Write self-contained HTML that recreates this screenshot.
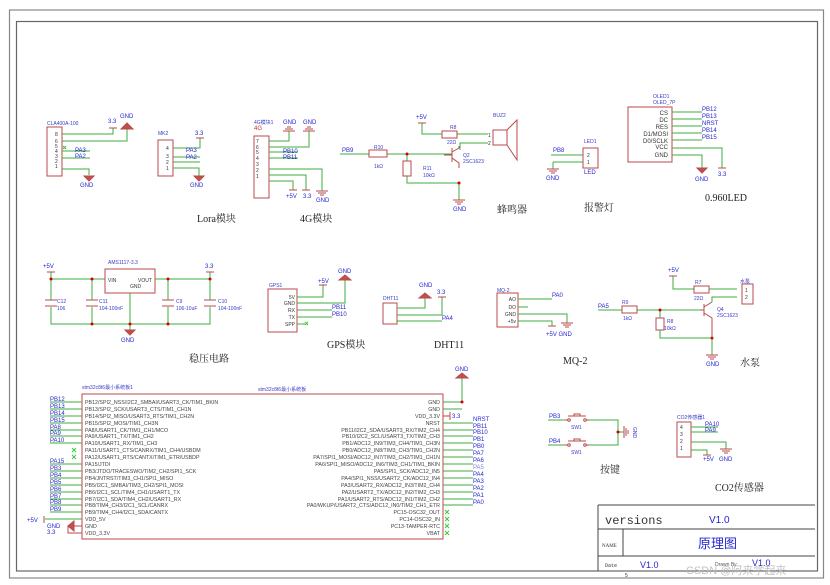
<!DOCTYPE html>
<html><head><meta charset="utf-8"><style>
html,body{margin:0;padding:0;background:#fff}
svg{display:block}
.r{stroke:#b84a4a;fill:none;stroke-width:1}
.rf{fill:#c05050;stroke:#b84a4a}
.g{stroke:#3fae3f;fill:none;stroke-width:1}
.k{stroke:#777;fill:none}
text{font-family:"Liberation Sans","Noto Sans CJK SC",sans-serif}
.b{fill:#2525d0;font-size:6px}
.bs{fill:#3a3ac8;font-size:5px}
.p{fill:#333;font-size:5px}
.s{fill:#444;font-size:5.3px}
.h{fill:#222;font-size:10px;font-family:"Liberation Serif","Noto Serif CJK SC",serif}
.j{fill:#d00000}
</style></head><body>
<svg width="830" height="585" viewBox="0 0 830 585" xmlns="http://www.w3.org/2000/svg">
<!-- frames -->
<rect x="9.5" y="10" width="814" height="568" fill="none" stroke="#888" stroke-width="1.2"/>
<rect x="16.5" y="21.5" width="801" height="549.5" fill="none" stroke="#666" stroke-width="1.2"/>

<!-- ===== LORA 1 ===== -->
<text class="bs" x="47" y="125">CLA400A-100</text>
<rect class="r" x="47" y="127" width="15" height="49"/>
<g class="p"><text x="55" y="136">8</text><text x="55" y="143">6</text><text x="55" y="148">5</text><text x="55" y="153">4</text><text x="55" y="158">3</text><text x="55" y="163">2</text><text x="55" y="168">1</text></g>
<path class="g" d="M62 134H113V128M62 141H127V128M62 151H90M62 158H90M62 169H89V175"/>
<path d="M63 146l3 3m0-3l-3 3" stroke="#3c3" fill="none"/>
<text class="b" x="75" y="152">PA3</text><text class="b" x="75" y="158">PA2</text>
<text class="b" x="108" y="123">3.3</text><path class="r" d="M109 128h8"/>
<text class="b" x="120" y="118" font-size="7">GND</text><path class="rf" d="M121 129l6-6 6 6z"/>
<path class="rf" d="M84 176h10l-5 5z"/><text class="b" x="80" y="187" font-size="7">GND</text>

<!-- ===== LORA 2 ===== -->
<text class="bs" x="158" y="135" font-size="4">MK2</text>
<rect class="r" x="158" y="140" width="15" height="36"/>
<g class="p"><text x="166" y="150">4</text><text x="166" y="158">3</text><text x="166" y="164">2</text><text x="166" y="170">1</text></g>
<path class="g" d="M173 148H200V138M173 157H200M173 162H200M173 168H199V176"/>
<text class="b" x="195" y="135">3.3</text><path class="r" d="M196 138h8"/>
<text class="b" x="186" y="152">PA3</text><text class="b" x="186" y="159">PA2</text>
<path class="rf" d="M194 176h10l-5 5z"/><text class="b" x="190" y="187" font-size="7">GND</text>
<text class="h" x="197" y="222">Lora模块</text>

<!-- ===== 4G ===== -->
<text class="bs" x="254" y="124">4G模块1</text><text class="b" x="254" y="130" fill="#c33" style="fill:#c03030">4G</text>
<rect class="r" x="254" y="136" width="15" height="62"/>
<g class="p"><text x="256" y="143">7</text><text x="256" y="149">6</text><text x="256" y="154">5</text><text x="256" y="160">4</text><text x="256" y="166">3</text><text x="256" y="172">2</text><text x="256" y="178">1</text></g>
<path class="g" d="M269 141H289V131M269 147H309V131M269 152H298M269 158H298M269 169H322V191M269 175H306V190M269 181H293V190"/>
<text class="b" x="283" y="153">PB10</text><text class="b" x="283" y="159">PB11</text>
<text class="b" x="283" y="124">GND</text><text class="b" x="303" y="124">GND</text>
<path class="r" d="M283 131h12M285 129h8M287 127h4M303 131h12M305 129h8M307 127h4"/>
<path class="r" d="M316 191h12M318 193h8M320 195h4M302 190h8M289 190h8"/>
<text class="b" x="303" y="198">3.3</text><text class="b" x="286" y="198">+5V</text><text class="b" x="316" y="202">GND</text>
<text class="h" x="300" y="222">4G模块</text>

<!-- ===== BUZZER ===== -->
<text class="b" x="342" y="152">PB9</text>
<path class="g" d="M340 154H369M387 154H452M407 154V161M407 176V183H459V200M422 123V134H442M457 134H488M488 143H460V150"/>
<rect class="r" x="369" y="150" width="18" height="7"/>
<text class="bs" x="374" y="149">R10</text><text class="bs" x="374" y="168">1kΩ</text>
<rect class="r" x="403" y="161" width="8" height="15"/>
<text class="bs" x="423" y="170">R11</text><text class="bs" x="423" y="177">10kΩ</text>
<circle class="j" cx="407" cy="154" r="1.5"/><circle class="j" cx="459" cy="183" r="1.5"/>
<text class="b" x="416" y="119">+5V</text><path class="r" d="M418 123h8"/>
<rect class="r" x="442" y="131" width="15" height="7"/>
<text class="bs" x="450" y="129">R8</text><text class="bs" x="447" y="144">22Ω</text>
<path class="r" d="M452 148V162M452 155H444M452 152L459 148V146M452 158L459 163V168"/>
<text class="bs" x="463" y="157">Q2</text><text class="bs" x="463" y="163">2SC1623</text>
<text class="bs" x="493" y="117">BUZ2</text>
<path class="r" d="M493 130h14v15h-14zM507 130L517 120V160L507 145"/>
<text class="p" x="488" y="137">1</text><text class="p" x="488" y="145">2</text>
<path class="r" d="M453 200h12M455 202h8M457 204h4"/>
<text class="b" x="453" y="211">GND</text>
<text class="h" x="497" y="213">蜂鸣器</text>

<!-- ===== LED ===== -->
<text class="b" x="553" y="152">PB8</text>
<path class="g" d="M551 155H583M553 162H583M553 162V169"/>
<rect class="r" x="583" y="148" width="15" height="20"/>
<text class="p" x="587" y="157">2</text><text class="p" x="587" y="164">1</text>
<text class="bs" x="584" y="143">LED1</text><text class="b" x="584" y="174">LED</text>
<path class="r" d="M547 169h12M549 171h8M551 173h4"/><text class="b" x="546" y="180">GND</text>
<text class="h" x="584" y="211">报警灯</text>

<!-- ===== OLED ===== -->
<text class="bs" x="653" y="98">OLED1</text><text class="bs" x="653" y="104">OLED_7P</text>
<rect class="r" x="628" y="107" width="44" height="55"/>
<g style="font-family:'Liberation Serif',serif;font-size:6px;fill:#333" text-anchor="end">
<text x="668" y="115">CS</text><text x="668" y="122">DC</text><text x="668" y="129">RES</text><text x="668" y="136">D1/MOSI</text><text x="668" y="143">D0/SCLK</text><text x="668" y="149">VCC</text><text x="668" y="157">GND</text></g>
<path class="g" d="M672 112H702M672 119H702M672 126H702M672 133H702M672 140H702M672 148H722V168M672 155H702V168"/>
<g class="b"><text x="702" y="111">PB12</text><text x="702" y="118">PB13</text><text x="702" y="125">NRST</text><text x="702" y="132">PB14</text><text x="702" y="139">PB15</text></g>
<path class="r" d="M718 168h8"/><text class="b" x="718" y="176">3.3</text>
<path class="rf" d="M697 168h10l-5 5z"/><text class="b" x="695" y="181" font-size="7">GND</text>
<text class="h" x="705" y="201">0.960LED</text>

<!-- ===== REGULATOR ===== -->
<text class="b" x="43" y="268" font-size="7">+5V</text>
<text class="bs" x="108" y="264">AMS1117-3.3</text>
<rect class="r" x="105" y="269" width="50" height="24"/>
<text class="p" x="108" y="282">VIN</text><text class="p" x="138" y="282">VOUT</text><text class="p" x="130" y="288" font-size="4">GND</text>
<path class="g" d="M51 272V279H105M155 279H210V272M51 279V300M51 307V324H210V307M210 279V300M92 279V300M92 307V324M168 279V300M168 307V324M130 293V330"/>
<path class="r" d="M45 300h12M45 306h12M86 300h12M86 306h12M162 300h12M162 306h12M204 300h12M204 306h12"/>
<path class="r" d="M47 272h8M206 272h8"/><text class="b" x="205" y="268">3.3</text>
<g class="j"><circle cx="51" cy="279" r="1.5"/><circle cx="92" cy="279" r="1.5"/><circle cx="168" cy="279" r="1.5"/><circle cx="210" cy="279" r="1.5"/><circle cx="92" cy="324" r="1.5"/><circle cx="130" cy="324" r="1.5"/><circle cx="168" cy="324" r="1.5"/></g>
<g class="bs"><text x="57" y="303">C12</text><text x="57" y="310">106</text><text x="99" y="303">C11</text><text x="99" y="310">104-100nF</text><text x="176" y="303">C9</text><text x="176" y="310">106-10uF</text><text x="218" y="303">C10</text><text x="218" y="310">104-100nF</text></g>
<path class="rf" d="M125 330h10l-5 5z"/><text class="b" x="121" y="342" font-size="7">GND</text>
<text class="h" x="189" y="362" font-size="11">稳压电路</text>

<!-- ===== GPS ===== -->
<text class="bs" x="269" y="287">GPS1</text>
<rect class="r" x="268" y="289" width="29" height="43"/>
<g class="p" text-anchor="end" font-size="6"><text x="295" y="299">5V</text><text x="295" y="305">GND</text><text x="295" y="312">RX</text><text x="295" y="319">TX</text><text x="295" y="326">SPP</text></g>
<path class="g" d="M297 297H323V285M297 303H345V280M297 310H332M297 317H332M297 324H305"/>
<path d="M305 322l3 3m0-3l-3 3" stroke="#3c3" fill="none"/>
<text class="b" x="318" y="283">+5V</text><path class="r" d="M319 285h8"/>
<text class="b" x="338" y="273">GND</text><path class="rf" d="M339 280l6-5 6 5z"/>
<text class="b" x="332" y="309">PB11</text><text class="b" x="332" y="316">PB10</text>
<text class="h" x="327" y="348">GPS模块</text>

<!-- ===== DHT11 ===== -->
<text class="bs" x="383" y="300">DHT11</text>
<rect class="r" x="383" y="303" width="14" height="21"/>
<path class="g" d="M397 308H425V298M397 315H442V297M397 321H442"/>
<text class="b" x="419" y="287">GND</text><path class="rf" d="M419 298l6-5 6 5z"/>
<text class="b" x="437" y="294">3.3</text><path class="r" d="M438 297h8"/>
<text class="b" x="442" y="320">PA4</text>
<text class="h" x="434" y="348">DHT11</text>

<!-- ===== MQ-2 ===== -->
<text class="bs" x="497" y="292">MQ-2</text>
<rect class="r" x="497" y="293" width="21" height="34"/>
<g class="p" font-size="6" text-anchor="end"><text x="516" y="301">AO</text><text x="516" y="309">DO</text><text x="516" y="316">GND</text><text x="516" y="323">+5v</text></g>
<path class="g" d="M518 299H552M518 314H567V323M518 321H552V326M518 307H528"/>
<text class="b" x="552" y="297">PA0</text>
<path class="r" d="M548 326h8M561 323h12M563 325h8M565 327h4"/>
<text class="b" x="546" y="336">+5V GND</text>
<text class="h" x="563" y="364">MQ-2</text>

<!-- ===== PUMP ===== -->
<text class="b" x="598" y="308">PA5</text>
<path class="g" d="M598 310H622M637 310H704M660 310V318M660 330V338H712V355M673 276V289H694M709 289H737M737 297H712V302"/>
<rect class="r" x="622" y="306" width="15" height="7"/>
<text class="bs" x="622" y="304">R9</text><text class="bs" x="623" y="320">1kΩ</text>
<rect class="r" x="656" y="318" width="8" height="12"/>
<text class="bs" x="667" y="323">R8</text><text class="bs" x="664" y="330">10kΩ</text>
<circle class="j" cx="660" cy="310" r="1.5"/><circle class="j" cx="712" cy="338" r="1.5"/>
<path class="r" d="M704 304V316M704 310H700M704 307L712 302M704 313L712 318V338"/>
<text class="bs" x="717" y="311">Q4</text><text class="bs" x="717" y="317">2SC1623</text>
<text class="b" x="668" y="272">+5V</text><path class="r" d="M669 276h8"/>
<rect class="r" x="694" y="286" width="15" height="7"/>
<text class="bs" x="695" y="284">R7</text><text class="bs" x="694" y="300">22Ω</text>
<rect class="r" x="742" y="284" width="11" height="20"/>
<text class="p" x="745" y="292">1</text><text class="p" x="745" y="299">2</text>
<text class="bs" x="740" y="283">水泵</text>
<path class="r" d="M706 355h12M708 357h8M710 359h4"/><text class="b" x="706" y="366">GND</text>
<text class="h" x="740" y="366" font-size="11">水泵</text>

<!-- ===== STM32 ===== -->
<text class="bs" x="82" y="389">stm32c8t6最小系统板1</text>
<text class="bs" x="258" y="391">stm32c8t6最小系统板</text>
<rect class="r" x="82" y="394" width="361" height="145"/>
<g class="s">
<text x="85" y="404">PB12/SPI2_NSS/I2C2_SMBAI/USART3_CK/TIM1_BKIN</text>
<text x="85" y="411">PB13/SPI2_SCK/USART3_CTS/TIM1_CH1N</text>
<text x="85" y="418">PB14/SPI2_MISO/USART3_RTS/TIM1_CH2N</text>
<text x="85" y="425">PB15/SPI2_MOSI/TIM1_CH3N</text>
<text x="85" y="432">PA8/USART1_CK/TIM1_CH1/MCO</text>
<text x="85" y="438">PA9/USART1_TX/TIM1_CH2</text>
<text x="85" y="445">PA10/USART1_RX/TIM1_CH3</text>
<text x="85" y="452">PA11/USART1_CTS/CANRX/TIM1_CH4/USBDM</text>
<text x="85" y="459">PA12/USART1_RTS/CANTX/TIM1_ETR/USBDP</text>
<text x="85" y="466">PA15/JTDI</text>
<text x="85" y="473">PB3/JTDO/TRACESWO/TIM2_CH2/SPI1_SCK</text>
<text x="85" y="480">PB4/JNTRST/TIM3_CH1/SPI1_MISO</text>
<text x="85" y="487">PB5/I2C1_SMBAI/TIM3_CH2/SPI1_MOSI</text>
<text x="85" y="494">PB6/I2C1_SCL/TIM4_CH1/USART1_TX</text>
<text x="85" y="501">PB7/I2C1_SDA/TIM4_CH2/USART1_RX</text>
<text x="85" y="507">PB8/TIM4_CH3/I2C1_SCL/CANRX</text>
<text x="85" y="514">PB9/TIM4_CH4/I2C1_SDA/CANTX</text>
<text x="85" y="521">VDD_5V</text>
<text x="85" y="528">GND</text>
<text x="85" y="535">VDD_3.3V</text>
</g>
<g class="s" text-anchor="end">
<text x="440" y="404">GND</text><text x="440" y="411">GND</text><text x="440" y="418">VDD_3.3V</text><text x="440" y="425">NRST</text>
<text x="440" y="432">PB11/I2C2_SDA/USART3_RX/TIM2_CH4</text>
<text x="440" y="438">PB10/I2C2_SCL/USART3_TX/TIM2_CH3</text>
<text x="440" y="445">PB1/ADC12_IN9/TIM3_CH4/TIM1_CH3N</text>
<text x="440" y="452">PB0/ADC12_IN8/TIM3_CH3/TIM1_CH2N</text>
<text x="440" y="459">PA7/SPI1_MOSI/ADC12_IN7/TIM3_CH2/TIM1_CH1N</text>
<text x="440" y="466">PA6/SPI1_MISO/ADC12_IN6/TIM3_CH1/TIM1_BKIN</text>
<text x="440" y="473">PA5/SPI1_SCK/ADC12_IN5</text>
<text x="440" y="480">PA4/SPI1_NSS/USART2_CK/ADC12_IN4</text>
<text x="440" y="487">PA3/USART2_RX/ADC12_IN3/TIM2_CH4</text>
<text x="440" y="494">PA2/USART2_TX/ADC12_IN2/TIM2_CH3</text>
<text x="440" y="501">PA1/USART2_RTS/ADC12_IN1/TIM2_CH2</text>
<text x="440" y="507">PA0/WKUP/USART2_CTS/ADC12_IN0/TIM2_CH1_ETR</text>
<text x="440" y="514">PC15-OSC32_OUT</text><text x="440" y="521">PC14-OSC32_IN</text><text x="440" y="528">PC13-TAMPER-RTC</text><text x="440" y="535">VBAT</text>
</g>
<path class="g" d="M50 402H82M50 409H82M50 416H82M50 423H82M50 430H82M50 436H82M50 443H82M50 464H82M50 471H82M50 478H82M50 485H82M50 492H82M50 499H82M50 505H82M50 512H82M45 519H82"/>
<path d="M72 448l4 4m0-4l-4 4M72 455l4 4m0-4l-4 4" stroke="#3c3" fill="none"/>
<g class="b"><text x="50" y="401">PB12</text><text x="50" y="408">PB13</text><text x="50" y="415">PB14</text><text x="50" y="422">PB15</text><text x="50" y="429">PA8</text><text x="50" y="435">PA9</text><text x="50" y="442">PA10</text><text x="50" y="463">PA15</text><text x="50" y="470">PB3</text><text x="50" y="477">PB4</text><text x="50" y="484">PB5</text><text x="50" y="491">PB6</text><text x="50" y="498">PB7</text><text x="50" y="504">PB8</text><text x="50" y="511">PB9</text></g>
<text class="b" x="27" y="522" font-size="7">+5V</text><path class="r" d="M44 516v7"/>
<path class="r" d="M82 526H68M82 533H68V526M68 526L74 521V531z" /><path class="rf" d="M68 526l6-4v8z"/>
<text class="b" x="47" y="528" font-size="7">GND</text><text class="b" x="47" y="534">3.3</text>
<path class="g" d="M443 402H462V378M443 409H462M443 423H473M443 430H473M443 436H473M443 443H473M443 450H473M443 457H473M443 464H473M443 471H473M443 478H473M443 485H473M443 492H473M443 499H473M443 505H473"/>
<circle class="j" cx="462" cy="402" r="1.5"/>
<path class="rf" d="M456 378l6-5 6 5z"/><text class="b" x="455" y="371" font-size="7">GND</text>
<path class="r" d="M443 416H450M450 412v8"/><text class="b" x="452" y="418" font-size="7">3.3</text>
<g class="b"><text x="473" y="421">NRST</text><text x="473" y="428">PB11</text><text x="473" y="434">PB10</text><text x="473" y="441">PB1</text><text x="473" y="448">PB0</text><text x="473" y="455">PA7</text><text x="473" y="462">PA6</text><text x="473" y="469" style="fill:#88c">PA5</text><text x="473" y="476">PA4</text><text x="473" y="483">PA3</text><text x="473" y="490">PA2</text><text x="473" y="497">PA1</text><text x="473" y="504">PA0</text></g>
<path d="M445 510l4 4m0-4l-4 4M445 517l4 4m0-4l-4 4M445 524l4 4m0-4l-4 4M445 531l4 4m0-4l-4 4" stroke="#3c3" fill="none"/>

<!-- ===== KEYS ===== -->
<text class="b" x="549" y="418">PB3</text><text class="b" x="549" y="443">PB4</text>
<path class="g" d="M548 420H565M589 420H618V445H589M548 445H565M618 432H624"/>
<path class="r" d="M565 420h3M586 420h3M568 416h18M574 416v-2h6v2M565 445h3M586 445h3M568 441h18M574 441v-2h6v2"/>
<circle cx="569" cy="420" r="1.3" class="r"/><circle cx="585" cy="420" r="1.3" class="r"/><circle cx="569" cy="445" r="1.3" class="r"/><circle cx="585" cy="445" r="1.3" class="r"/>
<text class="bs" x="571" y="429">SW1</text><text class="bs" x="571" y="454">SW1</text>
<circle class="j" cx="618" cy="432" r="1.5"/>
<path class="r" d="M624 426v12M626 428v8M628 430v4"/>
<text class="bs" x="633" y="427" transform="rotate(90 633 427)">GND</text>
<text class="h" x="600" y="473" font-size="11">按键</text>

<!-- ===== CO2 ===== -->
<text class="bs" x="677" y="419">CO2传感器1</text>
<rect class="r" x="677" y="422" width="14" height="35"/>
<g class="p"><text x="680" y="429">4</text><text x="680" y="436">3</text><text x="680" y="443">2</text><text x="680" y="450">1</text></g>
<path class="g" d="M691 427H718M691 432H718M691 442H726V449M691 450H707V455"/>
<text class="b" x="705" y="426">PA10</text><text class="b" x="705" y="432">PA9</text>
<path class="r" d="M703 455h8M720 449h12M722 451h8M724 453h4"/>
<text class="b" x="703" y="461">+5V</text><text class="b" x="719" y="461">GND</text>
<text class="h" x="715" y="491" font-size="11">CO2传感器</text>

<!-- ===== TITLE BLOCK ===== -->
<path d="M598 505V571M598 505H815M598 529H815M598 556H815M623 529V556" stroke="#444" fill="none" stroke-width="1"/>
<text x="605" y="524" style="font-family:'Liberation Mono',monospace;font-size:12px;fill:#333">versions</text>
<text x="709" y="523" style="fill:#2525d0;font-size:10px">V1.0</text>
<text x="602" y="547" style="font-family:'Liberation Serif',serif;font-size:5px;fill:#333">NAME</text>
<text x="698" y="548" style="fill:#2525d0;font-size:13px">原理图</text>
<text x="605" y="567" style="font-family:'Liberation Mono',monospace;font-size:5px;fill:#333">Date</text>
<text x="640" y="568" style="fill:#2525d0;font-size:9px">V1.0</text>
<text x="715" y="566" style="font-size:5px;fill:#555">Drawn By</text>
<text x="752" y="566" style="fill:#2525d0;font-size:9px">V1.0</text>
<text x="625" y="577" style="font-size:5px;fill:#333">5</text>
<text x="686" y="574" style="fill:#bbb;font-size:11px;opacity:.9">CSDN @阿来学起来</text>
</svg>
</body></html>
